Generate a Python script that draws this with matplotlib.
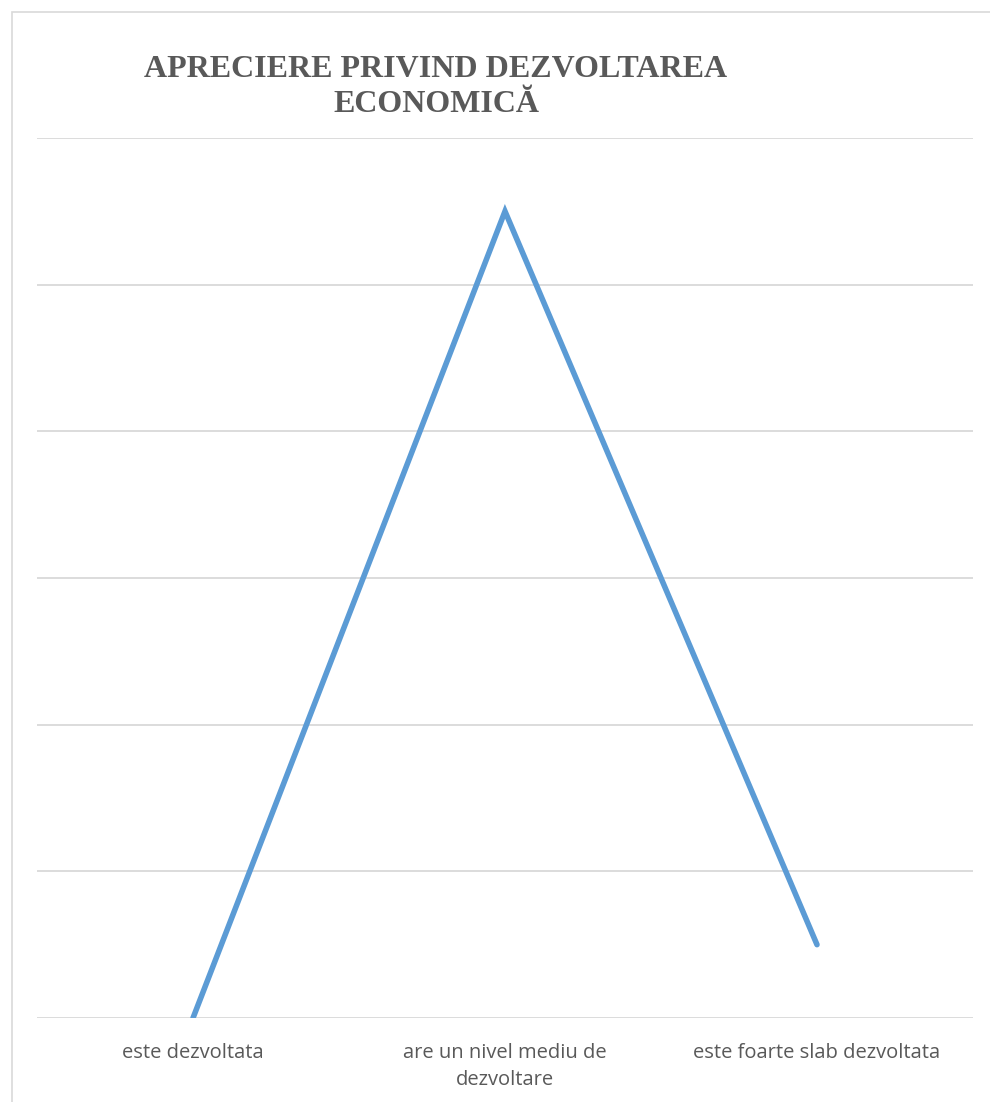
import matplotlib.pyplot as plt
from matplotlib.patches import Rectangle

# data
categories = ["este dezvoltata", "are un nivel mediu de\ndezvoltare", "este foarte slab dezvoltata"]
values = [0, 55, 5]
y_ticks = [0, 10, 20, 30, 40, 50, 60]
title = "APRECIERE PRIVIND DEZVOLTAREA\nECONOMICĂ"

W, H = 990, 1102
fig = plt.figure(figsize=(W / 100, H / 100), dpi=100)

# outer chart border (only left and top visible)
fig.add_artist(Rectangle((12 / W, -0.1), 1.2, (H - 12) / H + 0.1, transform=fig.transFigure,
                         fill=False, edgecolor="#d9d9d9", linewidth=1.2))

ax = fig.add_axes([37 / W, (H - 1018) / H, 936 / W, (1018 - 138) / H])
ax.plot(range(len(categories)), values, color="#5b9bd5", linewidth=4.0,
        solid_capstyle="round", solid_joinstyle="miter", zorder=3)

ax.set_xlim(-0.5, len(categories) - 0.5)
ax.set_ylim(y_ticks[0], y_ticks[-1])
ax.set_yticks(y_ticks)
ax.yaxis.grid(True, color="#d9d9d9", linewidth=1.3)
ax.tick_params(axis="y", left=False, labelleft=False)
ax.tick_params(axis="x", length=0, pad=18)
ax.set_xticks(range(len(categories)))
ax.set_xticklabels(categories, fontsize=14.5, color="#595959", family="Open Sans",
                   linespacing=1.45)
for s in ax.spines.values():
    s.set_visible(False)

fig.text(436 / W, 1 - 87 / H, title, ha="center", va="center", fontsize=23,
         fontweight="bold", family="Liberation Serif", color="#595959", linespacing=1.3)

fig.savefig("out.png", dpi=100)
